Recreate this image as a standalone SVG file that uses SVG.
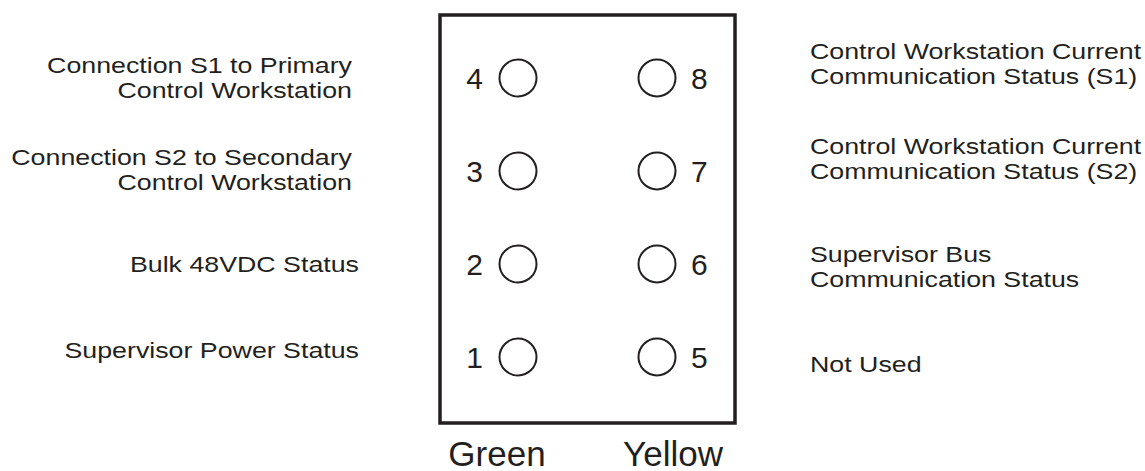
<svg xmlns="http://www.w3.org/2000/svg" width="1145" height="471" viewBox="0 0 1145 471">
<style>
text{font-family:"Liberation Sans",Arial,Helvetica,sans-serif;fill:#231f20}
.lbl{font-size:22.5px}
.num{font-size:30px}
.col{font-size:35px;text-anchor:middle}
.end{text-anchor:end}
.led{fill:none;stroke:#231f20;stroke-width:2}
</style>
<rect width="1145" height="471" fill="#fff"/>
<g id="panel">
<rect x="440" y="15" width="295" height="408" fill="none" stroke="#231f20" stroke-width="3.5"/>
</g>
<g id="leds">
<g id="led4"><circle class="led" cx="518" cy="78" r="18.5"/><text class="num end" x="483" y="89">4</text></g>
<g id="led3"><circle class="led" cx="518" cy="171" r="18.5"/><text class="num end" x="483" y="182">3</text></g>
<g id="led2"><circle class="led" cx="518" cy="264" r="18.5"/><text class="num end" x="483" y="275">2</text></g>
<g id="led1"><circle class="led" cx="518" cy="357" r="18.5"/><text class="num end" x="483" y="368">1</text></g>
<g id="led8"><circle class="led" cx="657" cy="78" r="18.5"/><text class="num" x="691" y="89">8</text></g>
<g id="led7"><circle class="led" cx="657" cy="171" r="18.5"/><text class="num" x="691" y="182">7</text></g>
<g id="led6"><circle class="led" cx="657" cy="264" r="18.5"/><text class="num" x="691" y="275">6</text></g>
<g id="led5"><circle class="led" cx="657" cy="357" r="18.5"/><text class="num" x="691" y="368">5</text></g>
</g>
<g id="columns">
<text class="col" x="497" y="466">Green</text>
<text class="col" x="673" y="466">Yellow</text>
</g>
<g id="left-labels">
<g id="lbl4"><text class="lbl end" transform="translate(352 73) scale(1.19 1)">Connection S1 to Primary</text><text class="lbl end" transform="translate(352 98) scale(1.19 1)">Control Workstation</text></g>
<g id="lbl3"><text class="lbl end" transform="translate(352 165) scale(1.19 1)">Connection S2 to Secondary</text><text class="lbl end" transform="translate(352 190) scale(1.19 1)">Control Workstation</text></g>
<g id="lbl2"><text class="lbl end" transform="translate(359 272) scale(1.19 1)">Bulk 48VDC Status</text></g>
<g id="lbl1"><text class="lbl end" transform="translate(359 358) scale(1.19 1)">Supervisor Power Status</text></g>
</g>
<g id="right-labels">
<g id="lbl8"><text class="lbl" transform="translate(810 59) scale(1.19 1)">Control Workstation Current</text><text class="lbl" transform="translate(810 84) scale(1.19 1)">Communication Status (S1)</text></g>
<g id="lbl7"><text class="lbl" transform="translate(810 154) scale(1.19 1)">Control Workstation Current</text><text class="lbl" transform="translate(810 179) scale(1.19 1)">Communication Status (S2)</text></g>
<g id="lbl6"><text class="lbl" transform="translate(810 262) scale(1.19 1)">Supervisor Bus</text><text class="lbl" transform="translate(810 287) scale(1.19 1)">Communication Status</text></g>
<g id="lbl5"><text class="lbl" transform="translate(810 372) scale(1.19 1)">Not Used</text></g>
</g>
<g id="connectors"></g>
</svg>
